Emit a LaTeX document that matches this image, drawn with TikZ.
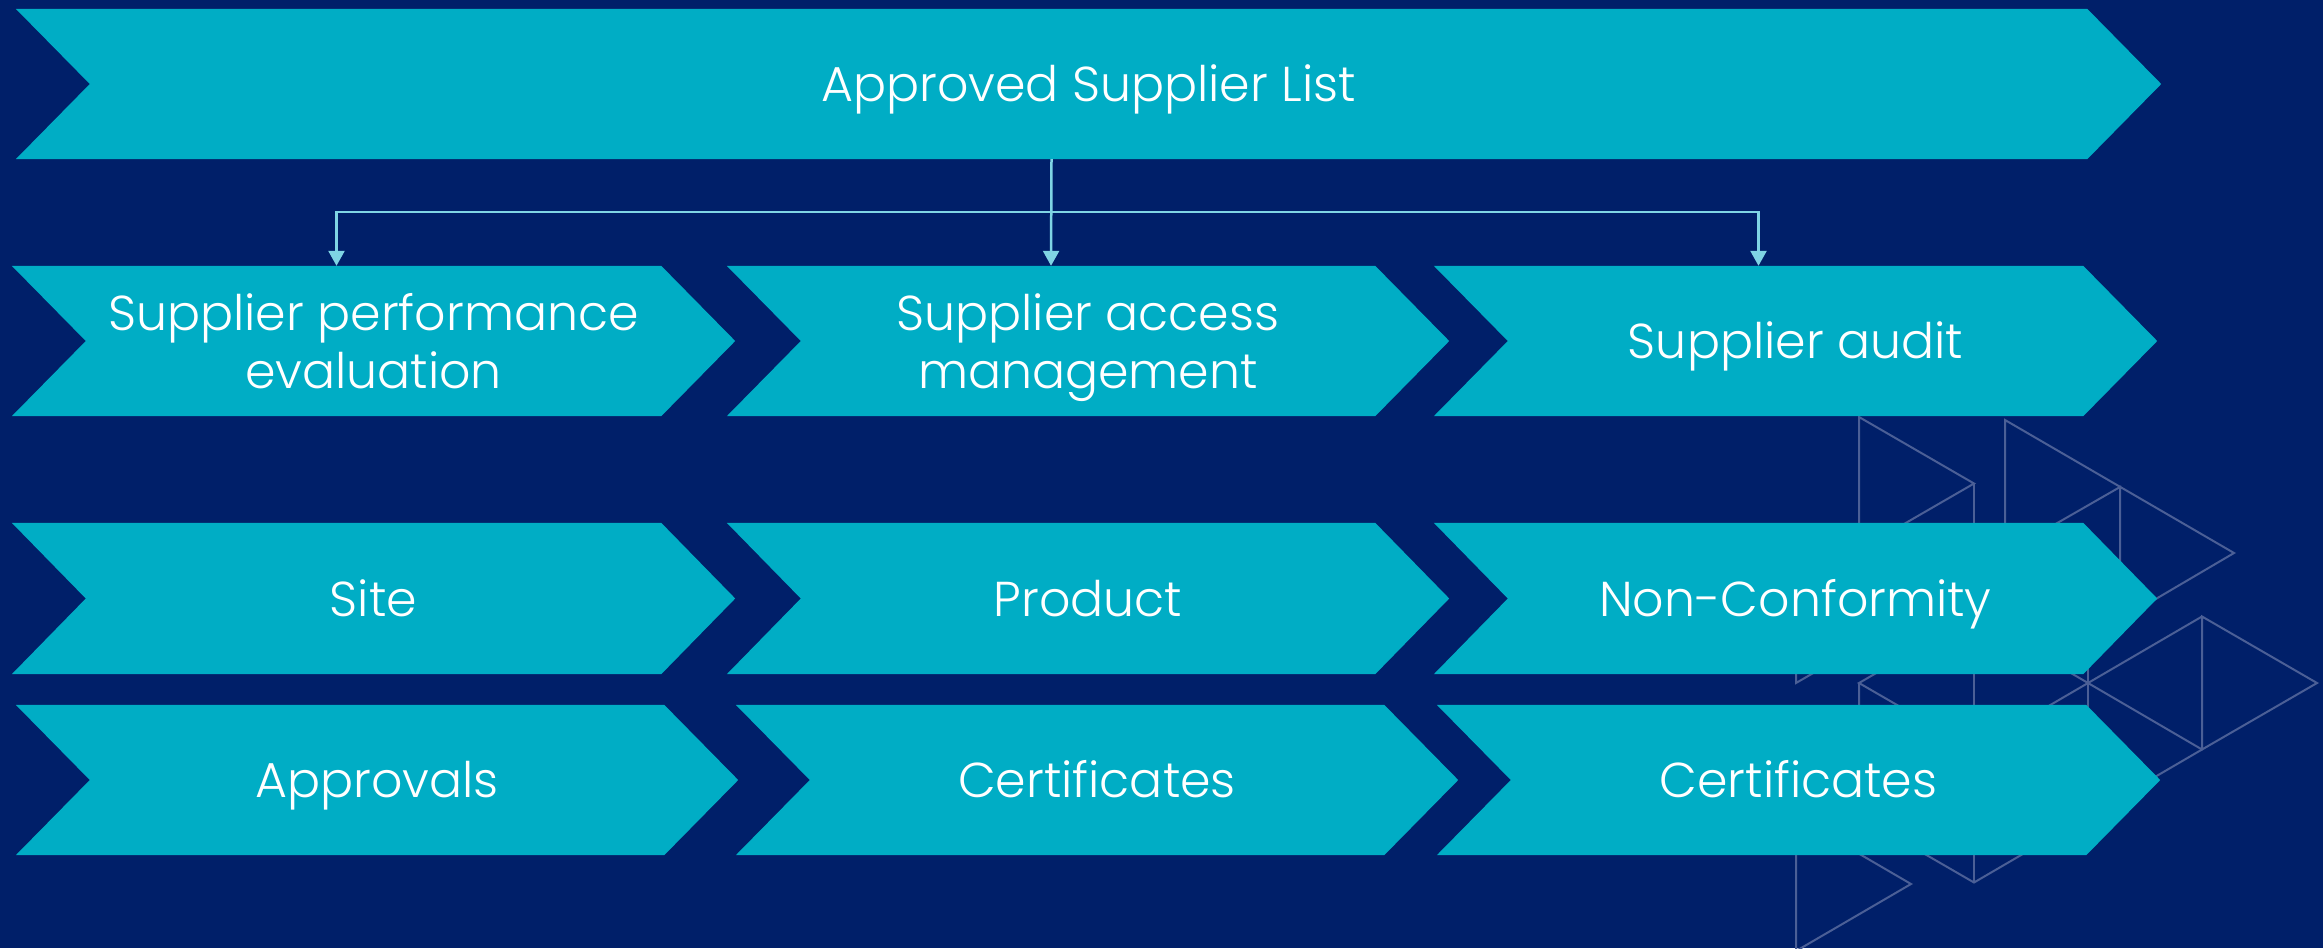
\documentclass[tikz,border=0pt]{standalone}
\usepackage{fontspec}
\setmainfont{Poppins}[UprightFont=* Light]
\usetikzlibrary{arrows.meta,calc}
\definecolor{navy}{HTML}{001F69}
\definecolor{chevcol}{HTML}{00ADC5}
\definecolor{conncol}{HTML}{7FD4E4}
\definecolor{tricol}{HTML}{4B5F96}
\pgfdeclarelayer{bgl}
\pgfdeclarelayer{chevl}
\pgfsetlayers{bgl,chevl,main}
\tikzset{
  chevbox/.style={rectangle, inner sep=0pt, minimum height=150pt, text=white, align=center,
    font=\fontsize{49}{58}\selectfont, text height=35pt, text depth=0pt},
  twoline/.style={text height=95pt, text depth=0pt},
  conn/.style={draw=conncol, line width=2.5pt, -{Triangle[width=16pt,length=15pt]}},
  tri/.style={draw=tricol, line width=2pt, line join=miter},
}
\newcommand\chevfill[1]{\fill[chevcol] (#1.north west) -- ([xshift=-74pt]#1.north east) -- (#1.east) -- ([xshift=-74pt]#1.south east) -- (#1.south west) -- ([xshift=74pt]#1.west) -- cycle;}
\begin{document}
\begin{tikzpicture}[x=1pt,y=-1pt]
\useasboundingbox (0,0) rectangle (2323,948);
\begin{pgfonlayer}{bgl}
\fill[navy] (0,0) rectangle (2323,948);
% lattice triangles
\draw[tri] (1859,417) -- (1974,483.5) -- (1859,550) -- cycle;
\draw[tri] (1974,483.5) -- (1974,882.5);
\draw[tri] (1974,616.5) -- (1859,683) -- (1974,749.5);
\draw[tri] (1859,683) -- (1859,816) -- (1974,882.5) -- (2088,816);
\draw[tri] (1974,616.5) -- (2202,749.5);
\draw[tri] (1974,749.5) -- (2202,616.5);
\draw[tri] (2088,550) -- (2088,816);
\draw[tri] (2202,616.5) -- (2317,683) -- (2202,749.5) -- cycle;
\draw[tri] (2202,749.5) -- (2088,816);
% upper right group
\draw[tri] (2005,553) -- (2005,420) -- (2234,553) -- (2120,620) -- (2120,487) -- cycle;
% lower left group
\draw[tri] (1796,550) -- (1911,616.5) -- (1796,683) -- cycle;
\draw[tri] (1796,817) -- (1911,884) -- (1796,951) -- cycle;
\end{pgfonlayer}

\node[chevbox, minimum width=2145pt] (top) at (1088.5,84) {Approved Supplier List};

\node[chevbox, twoline, minimum width=723pt] (b1) at (373.5,341) {Supplier performance\\evaluation};
\node[chevbox, twoline, minimum width=722pt] (b2) at (1088,341) {Supplier access\\management};
\node[chevbox, minimum width=723pt] (b3) at (1795.5,341) {Supplier audit};

\node[chevbox, minimum width=723pt, minimum height=151pt] (c1) at (373.5,598.5) {Site};
\node[chevbox, minimum width=722pt, minimum height=151pt] (c2) at (1088,598.5) {Product};
\node[chevbox, minimum width=723pt, minimum height=151pt] (c3) at (1795.5,598.5) {Non-Conformity};

\node[chevbox, minimum width=722pt] (d1) at (377,780) {Approvals};
\node[chevbox, minimum width=722pt] (d2) at (1097,780) {Certificates};
\node[chevbox, minimum width=723pt] (d3) at (1798.5,780) {Certificates};

\begin{pgfonlayer}{chevl}
\chevfill{top}
\chevfill{b1}\chevfill{b2}\chevfill{b3}
\chevfill{c1}\chevfill{c2}\chevfill{c3}
\chevfill{d1}\chevfill{d2}\chevfill{d3}
\end{pgfonlayer}

\coordinate (split) at ($([xshift=-37pt]top.south)+(0,53)$);
\draw[conn] ([xshift=-37pt]top.south) -- ([xshift=-37pt]b2.north);
\draw[conn] (split) -| ([xshift=-37pt]b1.north);
\draw[conn] (split) -| ([xshift=-37pt]b3.north);
\end{tikzpicture}
\end{document}
